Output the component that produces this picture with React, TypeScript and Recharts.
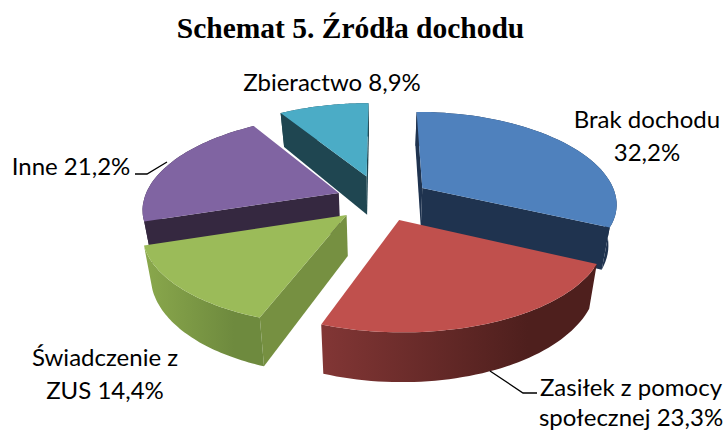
import { PieChart, Pie } from "recharts";

// slice order starts at Brak dochodu and runs counter-clockwise, so the painter order overlaps like the original
const NAMES = ["Brak dochodu", "Zbieractwo", "Inne", "Świadczenie z ZUS", "Zasiłek z pomocy społecznej"];
const VALUES = [32.2, 8.9, 21.2, 14.4, 23.3];
const LABEL_LINES = [
  ["Brak dochodu", "32,2%"],
  ["Zbieractwo 8,9%"],
  ["Inne 21,2%"],
  ["Świadczenie z", "ZUS 14,4%"],
  ["Zasiłek z pomocy", "społecznej 23,3%"],
];

const LABEL_X = [647, 332, 71, 105, 631];
const LABEL_Y = [128, 91, 175, 366, 396];
const LINE_HEIGHT = [33, 0, 0, 33, 30];
const LEADERS: Record<number, string> = {
  2: "135,174 147,174 167,162",
  4: "490,371 523,393 537,393",
};

const EXPLODE = [0.255, 0.28, 0.233, 0.24, 0.238];
const TOP_FILL = ["#4f81bd", "#4bacc6", "#8064a2", "#9bbb59", "#c0504d"];
const CUT_FILL = ["#1f334f", "#1f4651", "#352840", "#769041", "#7f3433"];
const ARC_FROM = ["#1f334f", "#1f4651", "#352840", "#8aa84c", "#823635"];
const ARC_TO = ["#1f334f", "#1f4651", "#352840", "#6e8a3e", "#4e1f1d"];

const HORIZON = 540; // distance from the pie centre up to the vanishing line
const DEPTH = 6.2;
const THICKNESS = 40;
const SHRINK = 0.965;
const BACK_LIFT = 4; // back of the pie sits a little higher than plain perspective gives

const data = NAMES.map((name, i) => ({ name, value: VALUES[i], index: i }));

type Pt = { x: number; y: number; s: number };

function project(X: number, Z: number, cx: number, cy: number, r: number): Pt {
  const s = 1 / (1 - Z / DEPTH);
  const lift = Z < 0 ? -Z * BACK_LIFT : 0;
  return { x: cx + r * X * s, y: cy - HORIZON + HORIZON * s - lift, s };
}

function lower(p: Pt, cx: number): Pt {
  return { x: cx + (p.x - cx) * SHRINK, y: p.y + THICKNESS * p.s, s: p.s };
}

const pts = (list: Pt[]) => list.map((p) => `${p.x.toFixed(1)},${p.y.toFixed(1)}`).join(" ");

function Slice3D(props: any) {
  const { cx, cy, outerRadius, startAngle, endAngle, index } = props;
  const rad = Math.PI / 180;
  const mid = ((startAngle + endAngle) / 2) * rad;
  const ox = EXPLODE[index] * Math.cos(mid);
  const oz = -EXPLODE[index] * Math.sin(mid);

  const apex = project(ox, oz, cx, cy, outerRadius);
  const arc: Pt[] = [];
  const steps = 48;
  for (let i = 0; i <= steps; i++) {
    const a = (startAngle + ((endAngle - startAngle) * i) / steps) * rad;
    arc.push(project(ox + Math.cos(a), oz - Math.sin(a), cx, cy, outerRadius));
  }
  const centre = arc[steps >> 1];
  const cen = { x: (apex.x + centre.x) / 2, y: (apex.y + centre.y) / 2 };

  const facesDown = (a: Pt, b: Pt) => {
    let nx = b.y - a.y;
    let ny = a.x - b.x;
    const mx = (a.x + b.x) / 2 - cen.x;
    const my = (a.y + b.y) / 2 - cen.y;
    if (nx * mx + ny * my < 0) {
      nx = -nx;
      ny = -ny;
    }
    return ny > 0;
  };

  const cuts = [arc[0], arc[steps]].filter((e) => facesDown(apex, e));
  const gradId = `wall-${index}`;

  return (
    <g>
      <defs>
        <linearGradient id={gradId} x1="0" y1="0" x2="1" y2="0">
          <stop offset="0%" stopColor={ARC_FROM[index]} />
          <stop offset="75%" stopColor={ARC_TO[index]} />
          <stop offset="100%" stopColor={ARC_TO[index]} />
        </linearGradient>
      </defs>
      {cuts.map((e, i) => (
        <polygon
          key={i}
          points={pts([apex, e, lower(e, cx), lower(apex, cx)])}
          fill={CUT_FILL[index]}
        />
      ))}
      <polygon
        points={pts([...arc, ...arc.map((p) => lower(p, cx)).reverse()])}
        fill={`url(#${gradId})`}
      />
      <polygon points={pts([apex, ...arc])} fill={TOP_FILL[index]} />
    </g>
  );
}

function renderLabel(props: any) {
  const i = props.index;
  return (
    <g key={i}>
      {LEADERS[i] && <polyline points={LEADERS[i]} fill="none" stroke="#000" strokeWidth={1.3} />}
      {LABEL_LINES[i].map((line, j) => (
        <text
          key={j}
          x={LABEL_X[i]}
          y={LABEL_Y[i] + j * LINE_HEIGHT[i]}
          textAnchor="middle"
          fontFamily="Lato, sans-serif"
          fontSize={24}
          fill="#000"
        >
          {line}
        </text>
      ))}
    </g>
  );
}

export default function App() {
  return (
    <div style={{ position: "absolute", left: 0, top: 0, width: 725, height: 430, background: "#fff" }}>
      <div
        style={{
          position: "absolute",
          left: 0,
          top: 12,
          width: 701,
          textAlign: "center",
          fontFamily: "'Liberation Serif', serif",
          fontWeight: "bold",
          fontSize: 29.5,
          color: "#000",
        }}
      >
        Schemat 5. Źródła dochodu
      </div>
      <PieChart width={725} height={430} margin={{ top: 0, right: 0, bottom: 0, left: 0 }}>
        <Pie
          data={data}
          dataKey="value"
          nameKey="name"
          cx={381}
          cy={200}
          innerRadius={0}
          outerRadius={195}
          startAngle={-25.92}
          endAngle={334.08}
          stroke="none"
          shape={Slice3D}
          label={renderLabel}
          labelLine={false}
          isAnimationActive={false}
        />
      </PieChart>
    </div>
  );
}
